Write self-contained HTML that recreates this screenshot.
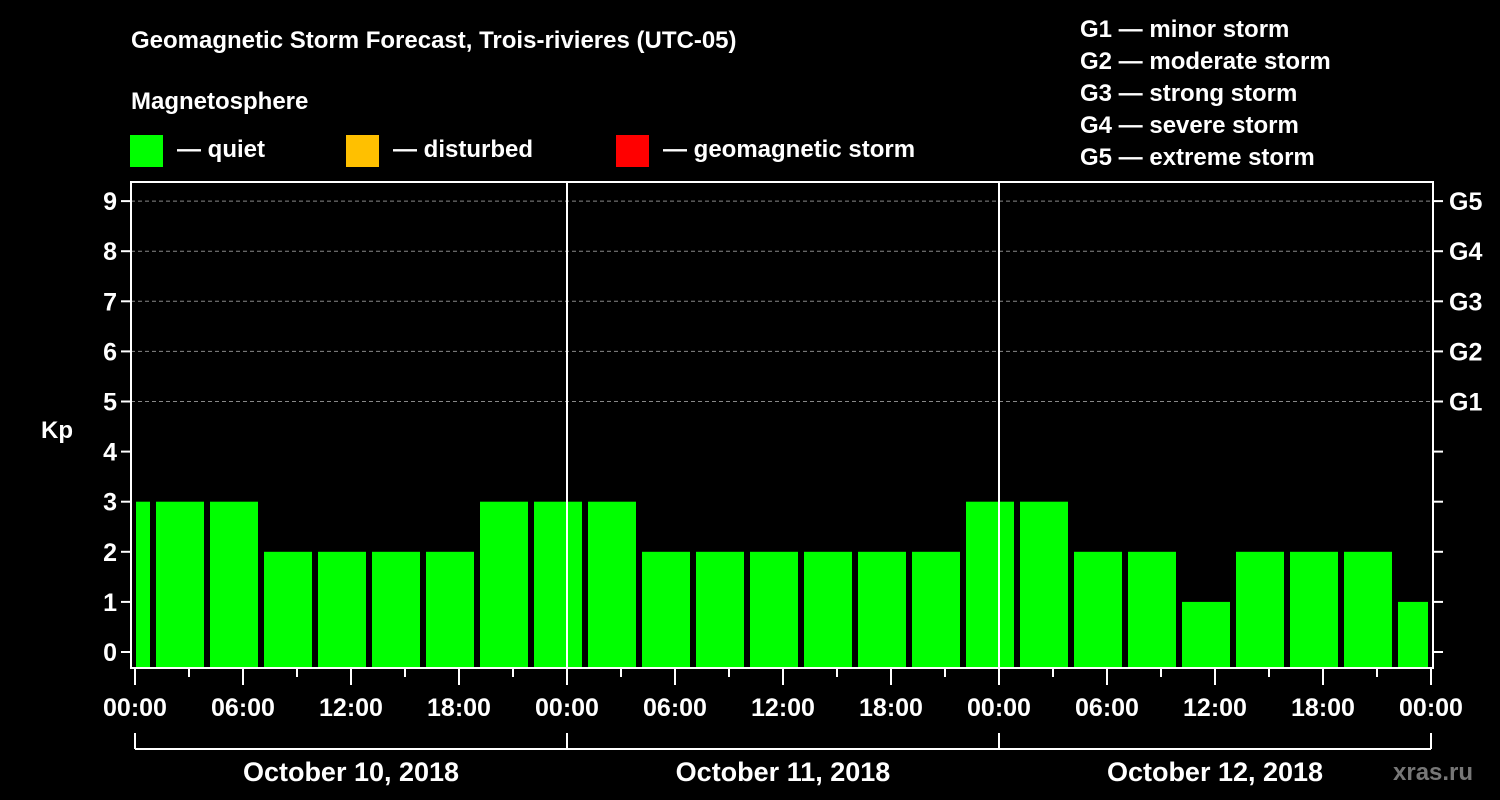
<!DOCTYPE html>
<html><head><meta charset="utf-8"><style>
html,body{margin:0;padding:0;background:#000;}
svg{display:block;font-family:"Liberation Sans",Arial,sans-serif;font-weight:bold;}
</style></head><body>
<svg id="chart" width="1500" height="800" viewBox="0 0 1500 800">
<text x="131" y="48" fill="#fff" font-size="24">Geomagnetic Storm Forecast, Trois-rivieres (UTC-05)</text>
<text x="131" y="109" fill="#fff" font-size="24">Magnetosphere</text>
<g><rect x="130" y="135" width="33" height="32" fill="#00ff00"/><text x="177" y="157" fill="#fff" font-size="24">— quiet</text></g>
<g><rect x="346" y="135" width="33" height="32" fill="#ffc000"/><text x="393" y="157" fill="#fff" font-size="24">— disturbed</text></g>
<g><rect x="616" y="135" width="33" height="32" fill="#ff0000"/><text x="663" y="157" fill="#fff" font-size="24">— geomagnetic storm</text></g>
<g fill="#fff" font-size="24">
<text x="1080" y="37">G1 — minor storm</text>
<text x="1080" y="69">G2 — moderate storm</text>
<text x="1080" y="101">G3 — strong storm</text>
<text x="1080" y="133">G4 — severe storm</text>
<text x="1080" y="165">G5 — extreme storm</text>
</g>
<text x="41" y="438" fill="#fff" font-size="24">Kp</text>
<text x="1393" y="780" fill="#777" font-size="24">xras.ru</text>
<g id="plot"></g>
</svg>
<script>
const binStartHours = [-2,1,4,7,10,13,16,19,22,25,28,31,34,37,40,43,46,49,52,55,58,61,64,67,70];
const kpValues = [3,3,3,2,2,2,2,3,3,3,2,2,2,2,2,2,3,3,2,2,1,2,2,2,1];
const yTicks = [0,1,2,3,4,5,6,7,8,9];
const gLabels = ["G1","G2","G3","G4","G5"];
const gLevels = [5,6,7,8,9];
const xTickLabels = ["00:00","06:00","12:00","18:00","00:00","06:00","12:00","18:00","00:00","06:00","12:00","18:00","00:00"];
const dayLabels = ["October 10, 2018","October 11, 2018","October 12, 2018"];

const NS="http://www.w3.org/2000/svg";
const g=document.getElementById('plot');
const X0=135, PX_H=18, Y0=652, PX_K=50.1, TOP=182, BOT=668, LEFT=131, RIGHT=1433;
const xs=h=>X0+h*PX_H, ys=v=>Y0-v*PX_K;
function mk(t,a){const e=document.createElementNS(NS,t);for(const k in a)e.setAttribute(k,a[k]);g.appendChild(e);return e;}

// grid
gLevels.forEach(v=>{
 const l=mk('line',{x1:LEFT,x2:RIGHT,y1:ys(v),y2:ys(v),stroke:'#888','stroke-dasharray':'4,3','stroke-width':1});
 
 
});
// bars
binStartHours.forEach((h,i)=>{
 let x1=xs(h)+3, x2=xs(h+3)-3;
 x1=Math.max(x1,LEFT+5); x2=Math.min(x2,RIGHT-5);
 const r=mk('rect',{x:x1,y:ys(kpValues[i]),width:x2-x1,height:BOT-1-ys(kpValues[i]),fill:'#00ff00'});
 
 
});
// day separators
[24,48].forEach(h=>{
 const l=mk('line',{x1:xs(h),x2:xs(h),y1:TOP,y2:BOT,stroke:'#fff','stroke-width':2});
 
 
});
// frame
const f=mk('rect',{x:LEFT,y:TOP,width:RIGHT-LEFT,height:BOT-TOP,fill:'none',stroke:'#fff','stroke-width':2});


// y ticks
yTicks.forEach(v=>{
 mk('line',{x1:LEFT-10,x2:LEFT,y1:ys(v),y2:ys(v),stroke:'#fff','stroke-width':2});
 mk('line',{x1:RIGHT,x2:RIGHT+10,y1:ys(v),y2:ys(v),stroke:'#fff','stroke-width':2});
 const t=mk('text',{x:LEFT-14,y:ys(v)+9,fill:'#fff','font-size':25,'text-anchor':'end'});
 t.textContent=v;
 
 
});
gLabels.forEach((s,i)=>{
 const t=mk('text',{x:1449,y:ys(gLevels[i])+9,fill:'#fff','font-size':25});
 t.textContent=s;
 
 
});
// x ticks
for(let h=0;h<=72;h+=3){
 const major=h%6===0;
 mk('line',{x1:xs(h),x2:xs(h),y1:BOT,y2:BOT+(major?17:9),stroke:'#fff','stroke-width':2});
}
xTickLabels.forEach((s,i)=>{
 const t=mk('text',{x:xs(i*6),y:716,fill:'#fff','font-size':25,'text-anchor':'middle'});
 t.textContent=s;
 
 
});
// day bracket
mk('line',{x1:xs(0),x2:xs(72),y1:749,y2:749,stroke:'#fff','stroke-width':2});
[0,24,48,72].forEach(h=>mk('line',{x1:xs(h),x2:xs(h),y1:733,y2:749,stroke:'#fff','stroke-width':2}));
dayLabels.forEach((s,i)=>{
 const t=mk('text',{x:xs(i*24+12),y:781,fill:'#fff','font-size':27,'text-anchor':'middle'});
 t.textContent=s;
 
 
});
</script>
</body></html>
